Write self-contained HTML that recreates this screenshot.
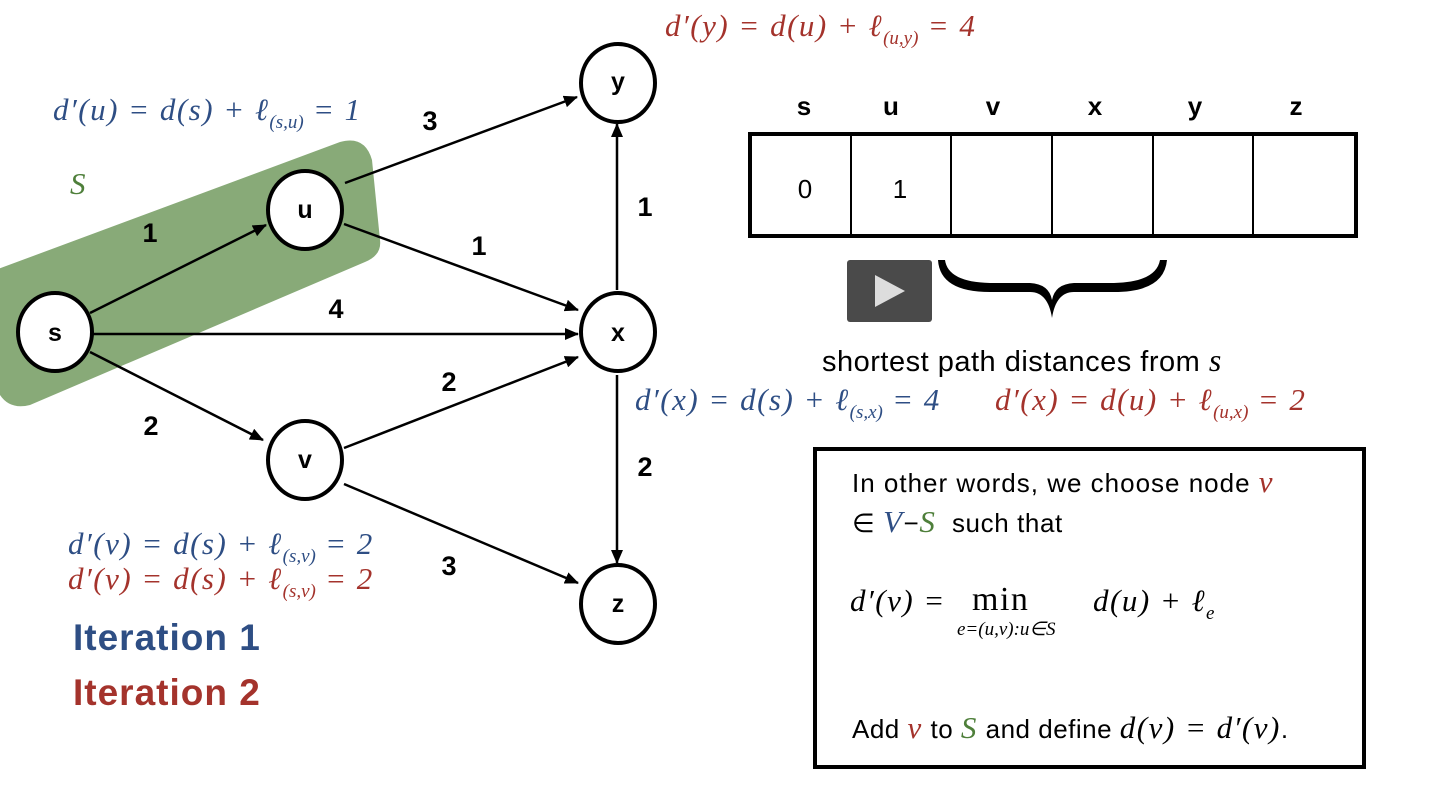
<!DOCTYPE html>
<html><head><meta charset="utf-8"><style>
body{margin:0;width:1435px;height:798px;background:#fff;overflow:hidden;position:relative;font-family:"Liberation Sans",sans-serif}
.m{position:absolute;font-family:"Liberation Serif",serif;font-size:31px;letter-spacing:1.5px;white-space:nowrap;line-height:1}
.i{font-style:italic}
sub{font-size:19px;vertical-align:-8px;letter-spacing:0}
.b{color:#2e4e84}.r{color:#a4332c}.g{color:#4e7f3a}
.t{position:absolute;font-size:26px;white-space:nowrap;line-height:1}
</style></head><body>
<svg width="1435" height="798" style="position:absolute;left:0;top:0">
<defs><marker id="a" markerWidth="14" markerHeight="12" refX="13" refY="6" orient="auto" markerUnits="userSpaceOnUse"><path d="M0,0L14,6L0,12z" fill="#000"/></marker></defs>
<path d="M-10,272 L340,142 Q365,135 372,160 L380,240 Q382,255 365,262 L30,405 Q10,410 0,395 Z" fill="#88aa78"/>
<g stroke="#000" stroke-width="2.5" fill="none" marker-end="url(#a)">
<line x1="90" y1="313" x2="266" y2="225"/>
<line x1="93" y1="334" x2="578" y2="334"/>
<line x1="90" y1="352" x2="263" y2="440"/>
<line x1="345" y1="183" x2="577" y2="97"/>
<line x1="344" y1="224" x2="578" y2="310"/>
<line x1="344" y1="448" x2="578" y2="357"/>
<line x1="344" y1="484" x2="578" y2="583"/>
<line x1="617" y1="290" x2="617" y2="124"/>
<line x1="617" y1="375" x2="617" y2="563"/>
</g>
<g stroke="#000" stroke-width="4" fill="#fff">
<ellipse cx="55" cy="332" rx="37" ry="39"/>
<ellipse cx="305" cy="210" rx="37" ry="39"/>
<ellipse cx="618" cy="83" rx="37" ry="39"/>
<ellipse cx="618" cy="332" rx="37" ry="39"/>
<ellipse cx="305" cy="460" rx="37" ry="39"/>
<ellipse cx="618" cy="604" rx="37" ry="39"/>
</g>
<g font-family="Liberation Sans" font-weight="bold" font-size="25" text-anchor="middle">
<text x="55" y="341">s</text><text x="305" y="218">u</text><text x="618" y="90">y</text>
<text x="618" y="341">x</text><text x="305" y="468">v</text><text x="618" y="612">z</text>
<g font-size="27"><text x="150" y="242">1</text><text x="336" y="318">4</text><text x="151" y="435">2</text>
<text x="430" y="130">3</text><text x="479" y="255">1</text><text x="449" y="391">2</text><text x="449" y="575">3</text>
<text x="645" y="216">1</text><text x="645" y="476">2</text></g>
<g font-size="26"><text x="804" y="115">s</text><text x="891" y="115">u</text><text x="993" y="115">v</text><text x="1095" y="115">x</text><text x="1195" y="115">y</text><text x="1296" y="115">z</text></g>
</g>
<rect x="750" y="134" width="606" height="102" fill="none" stroke="#000" stroke-width="4"/>
<g stroke="#000" stroke-width="2"><line x1="851" y1="134" x2="851" y2="236"/><line x1="951" y1="134" x2="951" y2="236"/><line x1="1052" y1="134" x2="1052" y2="236"/><line x1="1153" y1="134" x2="1153" y2="236"/><line x1="1253" y1="134" x2="1253" y2="236"/></g>
<text x="805" y="198" font-family="Liberation Sans" font-size="26" text-anchor="middle">0</text>
<text x="900" y="198" font-family="Liberation Sans" font-size="26" text-anchor="middle">1</text>
<path d="M938,260 Q940,292 990,292 L1030,292 Q1048,292 1052,318 Q1056,292 1074,292 L1114,292 Q1164,292 1167,260 L1160,260 Q1156,282 1114,283 L1074,283 Q1055,284 1052,300 Q1049,284 1030,283 L990,283 Q948,282 945,260 Z" fill="#000"/>
<rect x="847" y="260" width="85" height="62" rx="3" fill="#4a4a4a"/>
<path d="M875,275 L905,291 L875,307 Z" fill="#ddd"/>
<rect x="815" y="449" width="549" height="318" fill="none" stroke="#000" stroke-width="4"/>
</svg>
<div class="m i r" style="left:665px;top:10px">d′(y) = d(u) + ℓ<sub>(u,y)</sub> = 4</div>
<div class="m i b" style="left:53px;top:94px">d′(u) = d(s) + ℓ<sub>(s,u)</sub> = 1</div>
<div class="m i g" style="left:70px;top:168px">S</div>
<div class="m i b" style="left:635px;top:384px">d′(x) = d(s) + ℓ<sub>(s,x)</sub> = 4</div>
<div class="m i r" style="left:995px;top:384px">d′(x) = d(u) + ℓ<sub>(u,x)</sub> = 2</div>
<div class="m i b" style="left:68px;top:528px">d′(v) = d(s) + ℓ<sub>(s,v)</sub> = 2</div>
<div class="m i r" style="left:68px;top:563px">d′(v) = d(s) + ℓ<sub>(s,v)</sub> = 2</div>
<div class="t" style="left:73px;top:619px;font-size:37px;font-weight:bold;color:#2e4e84;letter-spacing:1px">Iteration 1</div>
<div class="t" style="left:73px;top:674px;font-size:37px;font-weight:bold;color:#a4332c;letter-spacing:1px">Iteration 2</div>
<div class="t" style="left:822px;top:344px;font-size:29px;letter-spacing:0.5px">shortest path distances from <span class="m i" style="position:static;font-size:32px">s</span></div>
<div class="t" style="left:852px;top:466px;letter-spacing:1px">In other words, we choose node <span class="m i r" style="position:static">v</span></div>
<div class="t" style="left:852px;top:506px;letter-spacing:0.6px">∈ <span class="m i b" style="position:static">V</span>−<span class="m i g" style="position:static">S</span>&nbsp; such that</div>
<div class="m i" style="left:850px;top:585px">d′(v) =</div>
<div class="m" style="left:972px;top:583px;font-size:34px">min</div>
<div class="m i" style="left:957px;top:620px;font-size:19px;letter-spacing:0">e=(u,v):u∈S</div>
<div class="m i" style="left:1093px;top:585px">d(u) + ℓ<sub>e</sub></div>
<div class="t" style="left:852px;top:712px;letter-spacing:0.5px">Add <span class="m i r" style="position:static">v</span> to <span class="m i g" style="position:static">S</span> and define <span class="m i" style="position:static">d(v) = d′(v)</span>.</div>
</body></html>
